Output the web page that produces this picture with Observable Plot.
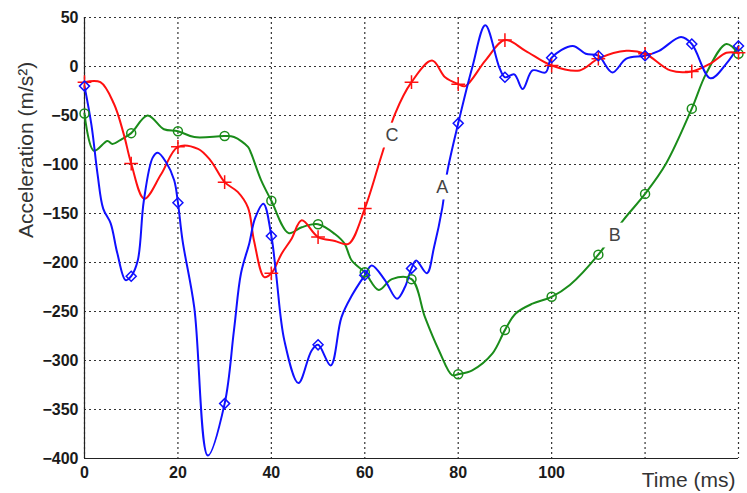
<!DOCTYPE html>
<html>
<head>
<meta charset="utf-8">
<script src="https://cdn.jsdelivr.net/npm/d3@7"></script>
<script src="https://cdn.jsdelivr.net/npm/@observablehq/plot@0.6"></script>
<style>
  html, body { margin: 0; padding: 0; background: #fff; }
  #chart svg { display: block; }
  #chart svg g[aria-label="x-axis tick label"] text,
  #chart svg g[aria-label="y-axis tick label"] text,
  #chart svg g[aria-label="x-axis"] text,
  #chart svg g[aria-label="y-axis"] text { font-weight: bold; fill: #1a1a1a; }
</style>
</head>
<body>
<div id="chart"></div>
<script>
// Series A (blue)
const blueTime  = [0, 1.5, 2.8, 4, 5.6, 7, 8.8, 10, 11.4, 12.7, 14.6, 15.7, 17.5, 19.2, 20, 21, 23.5, 26.4, 30, 32, 33.5, 35.3, 36.5, 38.3, 40, 41, 42.8, 45.8, 48.6, 50, 52.7, 55, 57.2, 60, 61.5, 64.3, 66.9, 68.6, 70, 71, 73.3, 74.8, 76.6, 77.6, 80, 83, 85.8, 88.8, 90, 92, 93.8, 95.9, 98.7, 100, 104.5, 107.3, 110, 113, 116, 120, 123, 127.7, 130, 134, 137.4, 140];
const blueAccel = [-20, -60, -110, -145, -160, -190, -218, -214, -198, -137, -93, -88, -98, -116, -139, -178, -246, -397, -344, -269, -211, -180, -155, -140, -173, -211, -280, -323, -290, -284, -305, -256, -234, -213, -203, -218, -237, -225, -206, -198, -211, -185, -144, -109, -58, -1, 42, -1, -11, -8, -23, -4, -6, 9, 21, 13, 11, -6, 8, 11, 16, 30, 23, -12, 3, 21];
// Series C (red)
const redTime  = [0, 3.4, 6.3, 8.4, 10, 12.8, 16.4, 20, 24.3, 27, 30, 32.8, 35, 36.3, 38.5, 40, 42.2, 44.3, 46.5, 50, 53.6, 56.5, 60, 63.7, 66.5, 70, 74.4, 77.2, 80, 81.5, 85.8, 90, 94.4, 100, 106, 110, 116, 120, 125.4, 130, 134, 137.4, 140];
const redAccel = [-16, -16, -38, -69, -99, -135, -110, -82, -84, -96, -118, -128, -144, -178, -215, -211, -191, -176, -157, -174, -178, -181, -145, -89, -48, -16, 6, -11, -18, -20, 6, 27, 16, 1, -4, 8, 16, 13, -4, -5, 3, 14, 14];
// Series B (green)
const greenTime  = [0, 2, 4.9, 6, 8, 10, 13.5, 17, 20, 23.5, 30, 32, 35, 35.7, 37.8, 40, 43.7, 46.5, 50, 53.6, 55.7, 57.2, 60, 63, 65.8, 70, 72.9, 75.9, 78.7, 80, 83, 87.3, 90, 92.3, 95.9, 100, 103.9, 110, 115.3, 120, 124.5, 130, 133.1, 137.4, 140];
const greenAccel = [-48, -86, -76, -79, -74, -68, -50, -64, -66, -72, -71, -72, -82, -89, -116, -137, -170, -164, -161, -171, -181, -198, -210, -228, -217, -217, -256, -290, -315, -314, -310, -293, -269, -252, -242, -235, -223, -192, -157, -130, -99, -43, -7, 23, 13];

const seriesNames  = ["A", "B", "C"];
const labelTime    = [76.6, 113.5, 65.8];
const labelAccel   = [-123, -172, -70];

const xGridTicks  = [0, 20, 40, 60, 80, 100, 120, 140];
const xLabelTicks = [0, 20, 40, 60, 80, 100];
const yTicks      = [50, 0, -50, -100, -150, -200, -250, -300, -350, -400];

const mk = (t, v) => t.map((x, i) => ({t: x, a: v[i]}));
const blue = mk(blueTime, blueAccel);
const red = mk(redTime, redAccel);
const green = mk(greenTime, greenAccel);
const onMarker = d => Math.abs(d.t % 10) < 1e-9;
const labels = seriesNames.map((s, i) => ({s, t: labelTime[i], a: labelAccel[i]}));

const BLUE = "#1010ff", RED = "#ff1010", GREEN = "#1a8c1a";

const chart = Plot.plot({
  width: 747,
  height: 493,
  marginLeft: 84,
  marginRight: 9,
  marginTop: 17,
  marginBottom: 35,
  style: {fontFamily: "'Liberation Sans', Arial, sans-serif", fontSize: "16px", fontWeight: "bold", color: "#1a1a1a", background: "#fff"},
  x: {domain: [0, 140], ticks: xLabelTicks, tickSize: 0, tickPadding: 8, label: null},
  y: {domain: [-400, 50], ticks: yTicks, tickSize: 0, tickPadding: 6, label: null},
  marks: [
    Plot.ruleX(xGridTicks, {stroke: "#333", strokeDasharray: "2,3", strokeWidth: 1.2}),
    Plot.ruleY(yTicks, {stroke: "#333", strokeDasharray: "2,3", strokeWidth: 1.2}),
    Plot.ruleX([0], {stroke: "#222", strokeWidth: 1.2}),
    Plot.ruleY([-400], {stroke: "#222", strokeWidth: 1.2}),
    Plot.line(green, {x: "t", y: "a", stroke: GREEN, strokeWidth: 2, curve: "catmull-rom"}),
    Plot.line(red, {x: "t", y: "a", stroke: RED, strokeWidth: 2, curve: "catmull-rom"}),
    Plot.line(blue, {x: "t", y: "a", stroke: BLUE, strokeWidth: 2, curve: "catmull-rom"}),
    Plot.dot(green.filter(onMarker), {x: "t", y: "a", symbol: "circle", r: 4.5, stroke: GREEN, fill: "none", strokeWidth: 1.5}),
    Plot.dot(red.filter(onMarker), {x: "t", y: "a", symbol: "plus", r: 4.5, stroke: RED, fill: "none", strokeWidth: 1.5}),
    Plot.dot(blue.filter(onMarker), {x: "t", y: "a", symbol: "diamond2", r: 4.5, stroke: BLUE, fill: "none", strokeWidth: 1.5}),
    Plot.dot(labels, {x: "t", y: "a", symbol: "square", r: 14, fill: "white", stroke: "none"}),
    Plot.text(labels, {x: "t", y: "a", text: "s", fontSize: 18, fontWeight: "normal", fill: "#444", lineAnchor: "middle"}),
    Plot.text(["Acceleration (m/s²)"], {frameAnchor: "left", dx: -58, rotate: -90, fontSize: 21, fontWeight: "normal", fill: "#333"}),
    Plot.text(["Time (ms)"], {frameAnchor: "bottom-right", textAnchor: "end", dx: -3, dy: 22, fontSize: 21, fontWeight: "normal", fill: "#333", lineAnchor: "middle"})
  ]
});
document.getElementById("chart").appendChild(chart);
</script>
</body>
</html>
